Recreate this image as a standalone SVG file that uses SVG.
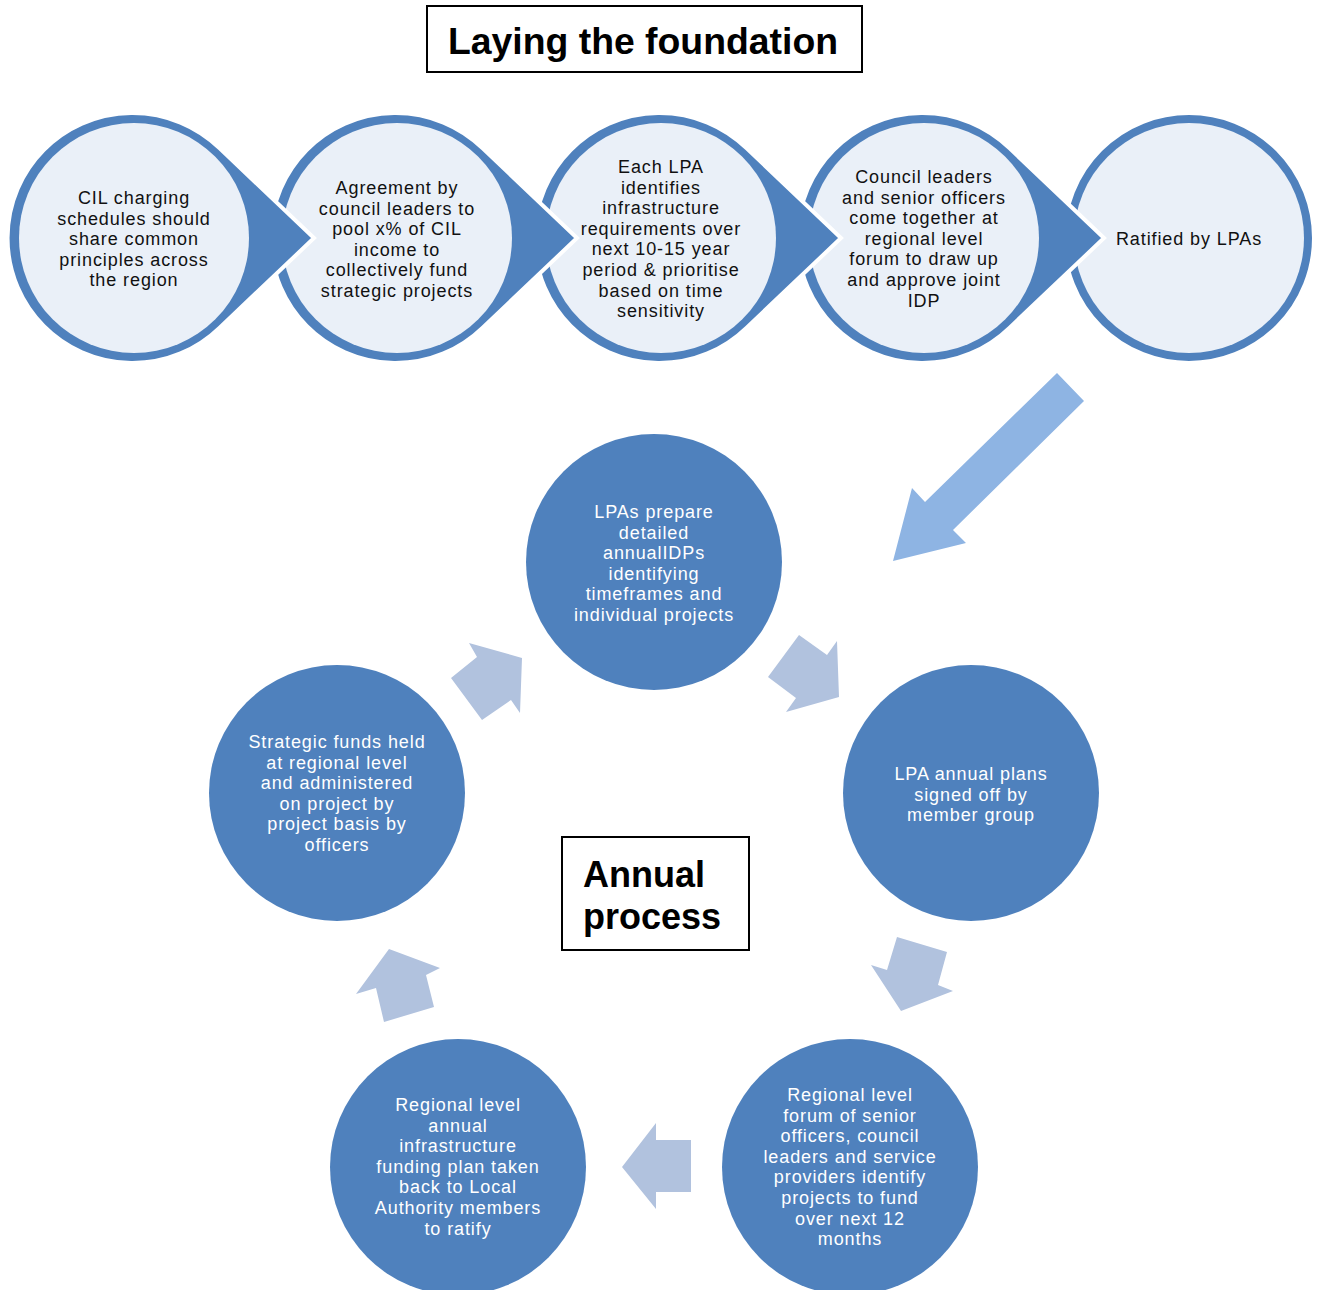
<svg xmlns="http://www.w3.org/2000/svg" width="1319" height="1290" viewBox="0 0 1319 1290">
  <style>
    .title { font-family: "Liberation Sans", Arial, sans-serif; font-weight: bold; fill: #000; }
    .box { fill: #fff; stroke: #000; stroke-width: 2; }
    .ring { fill: #4F81BD; stroke: #fff; stroke-width: 4; stroke-linejoin: miter; }
    .inner { fill: #EAF0F8; }
    .dark { font-family: "Liberation Sans", Arial, sans-serif; font-size: 18px; letter-spacing: 0.9px; fill: #111; text-anchor: middle; }
    .disc { fill: #4F81BD; }
    .light { font-family: "Liberation Sans", Arial, sans-serif; font-size: 18px; letter-spacing: 0.9px; fill: #fff; text-anchor: middle; }
    .big-arrow { fill: #8EB4E3; }
    .cycle-arrow { fill: #B1C2DE; }
  </style>

  <!-- heading -->
  <g id="title-foundation">
    <rect class="box" x="427" y="6" width="435" height="66"/>
    <text class="title" x="448" y="54" font-size="37" textLength="390" lengthAdjust="spacingAndGlyphs">Laying the foundation</text>
  </g>

  <!-- foundation steps, painted right to left so each pointer sits over the next disc -->
  <g id="step-5">
    <circle class="ring" cx="1189" cy="238" r="125"/>
    <circle class="inner" cx="1189" cy="238" r="115"/>
    <text class="dark" x="1189" y="245">Ratified by LPAs</text>
  </g>

  <g id="step-4">
    <path class="ring" d="M1009.4,148.1 L1104,238 L1009.4,327.9 A125 125 0 1 1 1009.4,148.1 Z"/>
    <circle class="inner" cx="924" cy="238" r="115"/>
    <text class="dark" x="924" y="183"><tspan x="924">Council leaders</tspan><tspan x="924" dy="20.6">and senior officers</tspan><tspan x="924" dy="20.6">come together at</tspan><tspan x="924" dy="20.6">regional level</tspan><tspan x="924" dy="20.6">forum to draw up</tspan><tspan x="924" dy="20.6">and approve joint</tspan><tspan x="924" dy="20.6">IDP</tspan></text>
  </g>

  <g id="step-3">
    <path class="ring" d="M746.4,148.1 L841,238 L746.4,327.9 A125 125 0 1 1 746.4,148.1 Z"/>
    <circle class="inner" cx="661" cy="238" r="115"/>
    <text class="dark" x="661" y="173"><tspan x="661">Each LPA</tspan><tspan x="661" dy="20.6">identifies</tspan><tspan x="661" dy="20.6">infrastructure</tspan><tspan x="661" dy="20.6">requirements over</tspan><tspan x="661" dy="20.6">next 10-15 year</tspan><tspan x="661" dy="20.6">period &amp; prioritise</tspan><tspan x="661" dy="20.6">based on time</tspan><tspan x="661" dy="20.6">sensitivity</tspan></text>
  </g>

  <g id="step-2">
    <path class="ring" d="M482.4,148.1 L577,238 L482.4,327.9 A125 125 0 1 1 482.4,148.1 Z"/>
    <circle class="inner" cx="397" cy="238" r="115"/>
    <text class="dark" x="397" y="194"><tspan x="397">Agreement by</tspan><tspan x="397" dy="20.6">council leaders to</tspan><tspan x="397" dy="20.6">pool x% of CIL</tspan><tspan x="397" dy="20.6">income to</tspan><tspan x="397" dy="20.6">collectively fund</tspan><tspan x="397" dy="20.6">strategic projects</tspan></text>
  </g>

  <g id="step-1">
    <path class="ring" d="M219.4,148.1 L314,238 L219.4,327.9 A125 125 0 1 1 219.4,148.1 Z"/>
    <circle class="inner" cx="134" cy="238" r="115"/>
    <text class="dark" x="134" y="204"><tspan x="134">CIL charging</tspan><tspan x="134" dy="20.6">schedules should</tspan><tspan x="134" dy="20.6">share common</tspan><tspan x="134" dy="20.6">principles across</tspan><tspan x="134" dy="20.6">the region</tspan></text>
  </g>

  <!-- annual cycle -->
  <g id="cycle-prepare">
    <circle class="disc" cx="654" cy="562" r="128"/>
    <text class="light" x="654" y="518"><tspan x="654">LPAs prepare</tspan><tspan x="654" dy="20.6">detailed</tspan><tspan x="654" dy="20.6">annualIDPs</tspan><tspan x="654" dy="20.6">identifying</tspan><tspan x="654" dy="20.6">timeframes and</tspan><tspan x="654" dy="20.6">individual projects</tspan></text>
  </g>

  <g id="cycle-signoff">
    <circle class="disc" cx="971" cy="793" r="128"/>
    <text class="light" x="971" y="780"><tspan x="971">LPA annual plans</tspan><tspan x="971" dy="20.6">signed off by</tspan><tspan x="971" dy="20.6">member group</tspan></text>
  </g>

  <g id="cycle-forum">
    <circle class="disc" cx="850" cy="1167" r="128"/>
    <text class="light" x="850" y="1101"><tspan x="850">Regional level</tspan><tspan x="850" dy="20.6">forum of senior</tspan><tspan x="850" dy="20.6">officers, council</tspan><tspan x="850" dy="20.6">leaders and service</tspan><tspan x="850" dy="20.6">providers identify</tspan><tspan x="850" dy="20.6">projects to fund</tspan><tspan x="850" dy="20.6">over next 12</tspan><tspan x="850" dy="20.6">months</tspan></text>
  </g>

  <g id="cycle-ratify">
    <circle class="disc" cx="458" cy="1167" r="128"/>
    <text class="light" x="458" y="1111"><tspan x="458">Regional level</tspan><tspan x="458" dy="20.6">annual</tspan><tspan x="458" dy="20.6">infrastructure</tspan><tspan x="458" dy="20.6">funding plan taken</tspan><tspan x="458" dy="20.6">back to Local</tspan><tspan x="458" dy="20.6">Authority members</tspan><tspan x="458" dy="20.6">to ratify</tspan></text>
  </g>

  <g id="cycle-funds">
    <circle class="disc" cx="337" cy="793" r="128"/>
    <text class="light" x="337" y="748"><tspan x="337">Strategic funds held</tspan><tspan x="337" dy="20.6">at regional level</tspan><tspan x="337" dy="20.6">and administered</tspan><tspan x="337" dy="20.6">on project by</tspan><tspan x="337" dy="20.6">project basis by</tspan><tspan x="337" dy="20.6">officers</tspan></text>
  </g>

  <g id="title-annual">
    <rect class="box" x="562" y="837" width="187" height="113"/>
    <text class="title" x="583" y="887" font-size="36">Annual</text>
    <text class="title" x="583" y="929" font-size="36">process</text>
  </g>

  <!-- connectors -->
  <g id="connectors">
    <polygon class="big-arrow" points="1057,373 1084,401 953,530 966,543 893,561 912,488 925,502"/>
    <polygon class="cycle-arrow" points="799,635 827,655 837,641 839,697 786,712 796,698 768,677"/>
    <polygon class="cycle-arrow" points="897,937 947,952 938,985 953,991 901,1011 871,965 887,970"/>
    <polygon class="cycle-arrow" points="656,1123 656,1140 691,1140 691,1192 656,1192 656,1209 622,1167"/>
    <polygon class="cycle-arrow" points="389,949 440,968 426,975 434,1007 384,1022 376,988 356,994"/>
    <polygon class="cycle-arrow" points="469,643 522,658 520,713 511,700 482,720 451,678 477,657"/>
  </g>
</svg>
